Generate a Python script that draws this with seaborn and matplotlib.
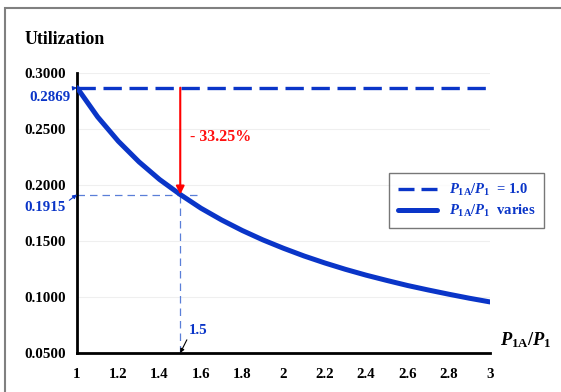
import matplotlib
matplotlib.use("Agg")
import matplotlib.pyplot as plt
from matplotlib.patches import Rectangle
from matplotlib.lines import Line2D
import numpy as np
import pandas as pd
import seaborn as sns

# Utilization as the ratio P1A/P1 grows
ratio = [1.0, 1.1, 1.2, 1.3, 1.4, 1.5, 1.6, 1.7, 1.8, 1.9, 2.0,
         2.1, 2.2, 2.3, 2.4, 2.5, 2.6, 2.7, 2.8, 2.9, 3.0]
util_varies = [0.2869, 0.2608, 0.2391, 0.2207, 0.2049, 0.1915, 0.1793, 0.1688,
               0.1594, 0.1510, 0.1435, 0.1366, 0.1304, 0.1247, 0.1195, 0.1148,
               0.1103, 0.1063, 0.1025, 0.0989, 0.0956]
util_fixed = 0.2869
ref_ratio = 1.5
ref_util = 0.1915
drop_label = "- 33.25%"

x_ticks = [1, 1.2, 1.4, 1.6, 1.8, 2, 2.2, 2.4, 2.6, 2.8, 3]
x_tick_labels = ["1", "1.2", "1.4", "1.6", "1.8", "2", "2.2", "2.4", "2.6", "2.8", "3"]
y_ticks = [0.05, 0.10, 0.15, 0.20, 0.25, 0.30]
y_tick_labels = ["0.0500", "0.1000", "0.1500", "0.2000", "0.2500", "0.3000"]

df = pd.DataFrame({"ratio": ratio, "util": util_varies})
df_fixed = pd.DataFrame({"ratio": [ratio[0], ratio[-1]], "util": [util_fixed, util_fixed]})

sns.set_style("white")
plt.rcParams["font.family"] = ["Liberation Serif", "DejaVu Serif"]
plt.rcParams["font.weight"] = "bold"
plt.rcParams["mathtext.fontset"] = "custom"
plt.rcParams["mathtext.rm"] = "Liberation Serif:bold"
plt.rcParams["mathtext.it"] = "Liberation Serif:bold:italic"
plt.rcParams["mathtext.bf"] = "Liberation Serif:bold"

BLUE = "#0a35c8"
LIGHT_BLUE = "#5a7fd8"

fig = plt.figure(figsize=(5.61, 3.92), dpi=100)
ax = fig.add_axes([77 / 561, 1 - 353 / 392, (490 - 77) / 561, (353 - 73) / 392])

# light horizontal grid
for yv in y_ticks[1:]:
    ax.axhline(yv, color="#efefef", lw=0.8, zorder=0)

# reference guides at ratio 1.5
ax.plot([ratio[0], 1.6], [ref_util, ref_util], color=LIGHT_BLUE, lw=0.9,
        dashes=(6, 4), zorder=1)
ax.plot([ref_ratio, ref_ratio], [0.05, 0.205], color=LIGHT_BLUE, lw=0.9,
        dashes=(6, 4), zorder=1)

sns.lineplot(data=df_fixed, x="ratio", y="util", ax=ax, color=BLUE, lw=2.4,
             dashes=False, zorder=3).lines[-1].set_dashes((5.5, 2.3))
sns.lineplot(data=df, x="ratio", y="util", ax=ax, color=BLUE, lw=3.6, zorder=4)

ax.set_xlim(1, 3)
ax.set_ylim(0.05, 0.30)
ax.set_xticks(x_ticks)
ax.set_xticklabels(x_tick_labels)
ax.set_yticks(y_ticks)
ax.set_yticklabels(y_tick_labels)
ax.set_xlabel("")
ax.set_ylabel("")
ax.tick_params(axis="both", direction="out", length=4, width=1.5, color="black",
               labelsize=10.8, labelcolor="black", pad=4)
ax.tick_params(axis="x", pad=7)
for lab in ax.get_xticklabels() + ax.get_yticklabels():
    lab.set_fontweight("bold")
for side in ["top", "right"]:
    ax.spines[side].set_visible(False)
for side in ["left", "bottom"]:
    ax.spines[side].set_color("black")
    ax.spines[side].set_linewidth(2)

# red drop arrow
ax.annotate("", xy=(ref_ratio, ref_util), xytext=(ref_ratio, util_fixed),
            arrowprops=dict(arrowstyle="-|>", color="#ff0000", lw=1.5,
                            mutation_scale=12, shrinkA=0, shrinkB=0), zorder=5)
ax.text(1.545, 0.2425, drop_label, color="#ff1010", fontsize=11.5,
        fontweight="bold", va="center", ha="left")

# value callouts
ax.annotate(f"{util_fixed:.4f}", xy=(1.0, util_fixed), xytext=(0.868, 0.2785),
            color=BLUE, fontsize=10.8, fontweight="bold", ha="center", va="center",
            annotation_clip=False,
            arrowprops=dict(arrowstyle="-|>", color=BLUE, lw=0.8,
                            mutation_scale=6, shrinkA=0, shrinkB=0,
                            relpos=(0.68, 1.0)))
ax.annotate(f"{ref_util:.4f}", xy=(1.0, ref_util), xytext=(0.847, 0.1795),
            color=BLUE, fontsize=10.8, fontweight="bold", ha="center", va="center",
            annotation_clip=False,
            arrowprops=dict(arrowstyle="-|>", color=BLUE, lw=0.8,
                            mutation_scale=6, shrinkA=0, shrinkB=0,
                            relpos=(1.0, 0.9)))
ax.annotate(f"{ref_ratio}", xy=(ref_ratio, 0.05), xytext=(1.585, 0.0705),
            color=BLUE, fontsize=10.8, fontweight="bold", ha="center", va="center",
            annotation_clip=False,
            arrowprops=dict(arrowstyle="-|>", color="black", lw=0.8,
                            mutation_scale=6, shrinkA=0, shrinkB=0,
                            relpos=(0.0, 0.0)))

# titles
fig.text(25 / 561, 1 - 40 / 392, "Utilization", fontsize=12.8, fontweight="bold",
         ha="left", va="center", color="black")
fig.text(500 / 561, 1 - 340 / 392, r"$P_{\mathrm{1A}}/P_{\mathrm{1}}$",
         fontsize=13.2, ha="left", va="center", color="black")

# legend
handles = [Line2D([], [], color=BLUE, lw=2.4, dashes=(4.8, 2.1)),
           Line2D([], [], color=BLUE, lw=3.6)]
labels = [r"$P_{\mathrm{1A}}/P_{\mathrm{1}}$  = 1.0",
          r"$P_{\mathrm{1A}}/P_{\mathrm{1}}$  varies"]
leg = fig.legend(handles, labels, loc="upper left",
                 bbox_to_anchor=(389 / 561, 1 - 173 / 392), frameon=True,
                 fancybox=False, borderaxespad=0, handlelength=2.7,
                 handletextpad=0.8, borderpad=0.6, labelspacing=0.35,
                 prop={"size": 10.5, "weight": "bold"})
leg.get_frame().set_edgecolor("#555555")
leg.get_frame().set_linewidth(1.0)
for t in leg.get_texts():
    t.set_color(BLUE)

# outer frame
fig.patches.append(Rectangle((5 / 561, -0.1), 1.2, 1.1 - 8 / 392,
                             transform=fig.transFigure, fill=False,
                             edgecolor="#808080", lw=1.5))

fig.savefig("out.png", dpi=100)
